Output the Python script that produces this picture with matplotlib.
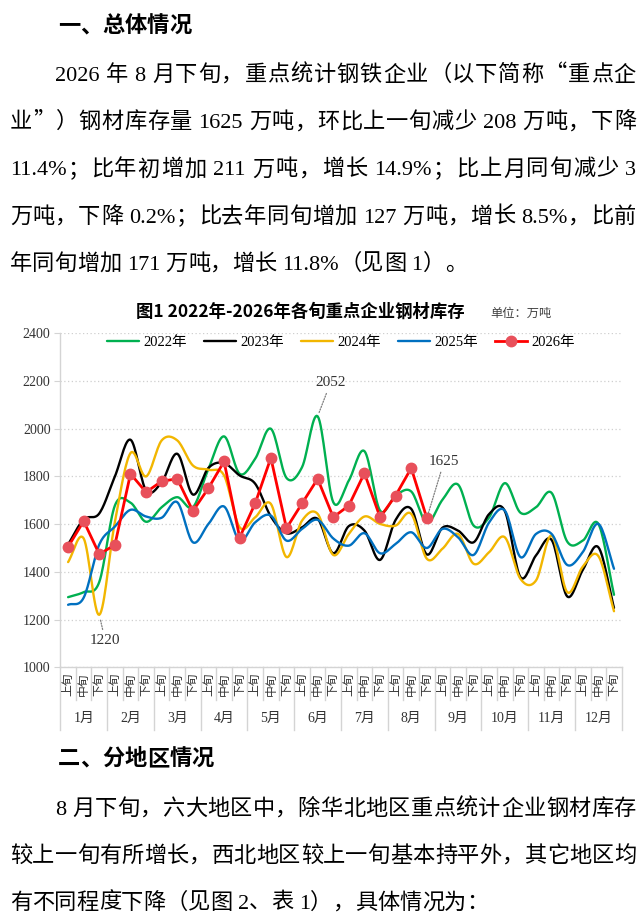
import re
import matplotlib
matplotlib.use('Agg')
import matplotlib.pyplot as plt
import matplotlib.transforms as mtrans
from matplotlib.font_manager import FontProperties
import numpy as np

W, H = 642, 914
CJK = 'Noto Sans CJK SC'
SERIF = 'Liberation Serif'

heading1 = '一、总体情况'
para1 = [
    '2026 年 8 月下旬，重点统计钢铁企业（以下简称“重点企',
    '业”）钢材库存量 1625 万吨，环比上一旬减少 208 万吨，下降',
    '11.4%；比年初增加 211 万吨，增长 14.9%；比上月同旬减少 3',
    '万吨，下降 0.2%；比去年同旬增加 127 万吨，增长 8.5%，比前',
    '年同旬增加 171 万吨，增长 11.8%（见图 1）。',
]
heading2 = '二、分地区情况'
para2 = [
    '8 月下旬，六大地区中，除华北地区重点统计企业钢材库存',
    '较上一旬有所增长，西北地区较上一旬基本持平外，其它地区均',
    '有不同程度下降（见图 2、表 1），具体情况为：',
]

chart_title = '图1 2022年-2026年各旬重点企业钢材库存'
unit_text = '单位：万吨'
periods = ['上旬', '中旬', '下旬']
months = ['1月', '2月', '3月', '4月', '5月', '6月',
          '7月', '8月', '9月', '10月', '11月', '12月']

years = ['2022年', '2023年', '2024年', '2025年', '2026年']
y2022 = [1294, 1315, 1358, 1678, 1690, 1610, 1671, 1713, 1671, 1832, 1968, 1811,
         1875, 2000, 1794, 1839, 2052, 1692, 1783, 1906, 1657, 1720, 1737, 1606,
         1702, 1766, 1594, 1629, 1772, 1648, 1671, 1731, 1527, 1531, 1601, 1304]
y2023 = [1515, 1620, 1645, 1800, 1954, 1741, 1776, 1895, 1724, 1836, 1856, 1804,
         1769, 1632, 1562, 1587, 1622, 1478, 1592, 1573, 1450, 1618, 1664, 1473,
         1585, 1573, 1524, 1643, 1655, 1378, 1469, 1534, 1297, 1408, 1503, 1249]
y2024 = [1441, 1540, 1220, 1610, 1898, 1800, 1951, 1951, 1846, 1828, 1804, 1587,
         1629, 1685, 1462, 1615, 1643, 1471, 1559, 1632, 1601, 1594, 1643, 1455,
         1497, 1559, 1434, 1483, 1545, 1371, 1364, 1552, 1315, 1422, 1466, 1235]
y2025 = [1262, 1292, 1515, 1590, 1660, 1632, 1627, 1692, 1524, 1601, 1674, 1531,
         1608, 1636, 1531, 1580, 1618, 1540, 1510, 1562, 1478, 1517, 1566, 1500,
         1580, 1545, 1471, 1608, 1657, 1462, 1559, 1559, 1429, 1483, 1601, 1413]
y2026 = [1505, 1613, 1474, 1513, 1811, 1734, 1780, 1790, 1655, 1751, 1863, 1544,
         1688, 1878, 1583, 1687, 1790, 1629, 1678, 1814, 1629, 1720, 1835, 1625]
colors = ['#00B050', '#000000', '#F2B600', '#0070C0', '#FF0000']


def fpos(x, y):
    return x / W, 1 - y / H


def smooth(xs, ys, n=16):
    # catmull-rom, close to the excel "smoothed line"
    p = np.column_stack([xs, ys]).astype(float)
    p = np.vstack([2 * p[0] - p[1], p, 2 * p[-1] - p[-2]])
    t = np.linspace(0, 1, n, endpoint=False)[:, None]
    out = []
    for i in range(1, len(p) - 2):
        p0, p1, p2, p3 = p[i - 1], p[i], p[i + 1], p[i + 2]
        out.append(0.5 * (2 * p1 + (p2 - p0) * t
                          + (2 * p0 - 5 * p1 + 4 * p2 - p3) * t ** 2
                          + (3 * p1 - p0 - 3 * p2 + p3) * t ** 3))
    out.append(p[-2][None])
    out = np.vstack(out)
    return out[:, 0], out[:, 1]


def put_line(fig, rend, s, x0, x1, yc, size, justify=True, bold=False):
    toks = re.findall(r'[0-9A-Za-z.%]+|\s|.', s)
    items = []
    gap = False
    for t in toks:
        if t.isspace():
            gap = True
            continue
        fam = SERIF if re.match(r'[0-9A-Za-z.%]', t) else CJK
        obj = fig.text(0, 0, t, fontsize=size, family=fam, va='baseline', ha='left',
                       fontweight='bold' if bold else 'normal', color='black')
        w = obj.get_window_extent(rend).width
        items.append((obj, w, gap))
        gap = False
    sp = size * 100 / 72 * 0.25
    base = sum(it[1] for it in items) + sum(sp for it in items[1:] if it[2])
    extra = (x1 - x0 - base) / (len(items) - 1) if justify and len(items) > 1 else 0
    x = x0
    for k, (obj, w, g) in enumerate(items):
        if k > 0:
            x += extra + (sp if g else 0)
        obj.set_position(fpos(x, yc + 8))
        x += w


fig = plt.figure(figsize=(W / 100, H / 100), dpi=100)
fig.patch.set_facecolor('white')
rend = fig.canvas.get_renderer()

# document text
put_line(fig, rend, heading1, 58, 0, 24, 16, justify=False, bold=True)
for k, line in enumerate(para1):
    x0 = 55 if k == 0 else 10
    put_line(fig, rend, line, x0, 636, 73 + 47.2 * k, 16, justify=k < len(para1) - 1)
put_line(fig, rend, heading2, 58, 0, 757, 16, justify=False, bold=True)
for k, line in enumerate(para2):
    x0 = 55 if k == 0 else 10
    put_line(fig, rend, line, x0, 636, 807 + 46.8 * k, 16, justify=k < len(para2) - 1)

# chart
ax_l, ax_r, ax_t, ax_b = 60.3, 621.8, 333.3, 667.3
ax = fig.add_axes([ax_l / W, 1 - ax_b / H, (ax_r - ax_l) / W, (ax_b - ax_t) / H])
ax.set_xlim(0, 36)
ax.set_ylim(1000, 2400)
ax.set_yticks(range(1000, 2401, 200))
ax.set_xticks([])
ax.grid(axis='y', linestyle=(0, (1, 2)), color='#cfcfcf', linewidth=0.9)
ax.set_axisbelow(True)
for s in ['top', 'right']:
    ax.spines[s].set_visible(False)
for s in ['left', 'bottom']:
    ax.spines[s].set_color('#d4d4d4')
    ax.spines[s].set_linewidth(1.0)
ax.tick_params(axis='y', length=4, color='#d4d4d4', pad=3, labelsize=10, labelcolor='#333333')
for lab in ax.get_yticklabels():
    lab.set_family(SERIF)

handles = []
for name, vals, col in zip(years[:4], [y2022, y2023, y2024, y2025], colors[:4]):
    xs = np.arange(len(vals)) + 0.5
    sx, sy = smooth(xs, vals)
    h, = ax.plot(sx, sy, color=col, lw=1.7, label=name, solid_capstyle='round')
    handles.append(h)
xs26 = np.arange(len(y2026)) + 0.5
h, = ax.plot(xs26, y2026, color=colors[4], lw=2.0, marker='o', markersize=7.5,
             markerfacecolor='#E8505B', markeredgecolor='#E8505B', label=years[4], zorder=5)
handles.append(h)

leg_font = FontProperties(family=[SERIF, CJK], size=10.5)
ax.legend(handles=handles, loc='center', bbox_to_anchor=(0.5, 1 - 9.5 / (ax_b - ax_t)),
          ncol=5, frameon=False, prop=leg_font, handlelength=2.2, handletextpad=0.3,
          columnspacing=1.15, borderaxespad=0)

# annotations
ann_font = FontProperties(family=SERIF, size=11)
arrow = dict(arrowstyle='-', linestyle=(0, (1, 1.2)), color='#7f7f7f', lw=0.9,
             shrinkA=1, shrinkB=3)
notes = [(y2022, 16, (17.32, 2192)), (y2026, 23, (24.6, 1862)), (y2024, 2, (2.87, 1114))]
for vals, i, txy in notes:
    ax.annotate(str(vals[i]), xy=(i + 0.5, vals[i]), xytext=txy, ha='center', va='center',
                fontproperties=ann_font, color='#333333', arrowprops=arrow, zorder=6)

# category axis: 旬 labels, month labels and separators
blend = mtrans.blended_transform_factory(ax.transData, fig.transFigure)
for m in range(12):
    for j, p in enumerate(periods):
        ax.text(3 * m + j + 0.5, 1 - 684 / H, p, transform=blend, rotation=90,
                ha='center', va='center', fontsize=8.5, family=CJK, color='#333333',
                clip_on=False)
    ax.text(3 * m + 1.5, 1 - 718 / H, months[m], transform=blend, ha='center', va='center',
            fontproperties=FontProperties(family=[SERIF, CJK], size=10), color='#333333',
            clip_on=False)
for b in range(37):
    yb = 730 if b % 3 == 0 else 700
    ax.plot([b, b], [1 - ax_b / H, 1 - yb / H], transform=blend, color='#d4d4d4',
            lw=1.0, clip_on=False)

fig.text(*fpos(300, 312), chart_title, ha='center', va='center', fontsize=12.5,
         fontweight='bold', family=CJK)
fig.text(*fpos(490, 313), unit_text, ha='left', va='center', fontsize=8.8,
         family=CJK, color='#404040')

fig.savefig('out.png', dpi=100)
